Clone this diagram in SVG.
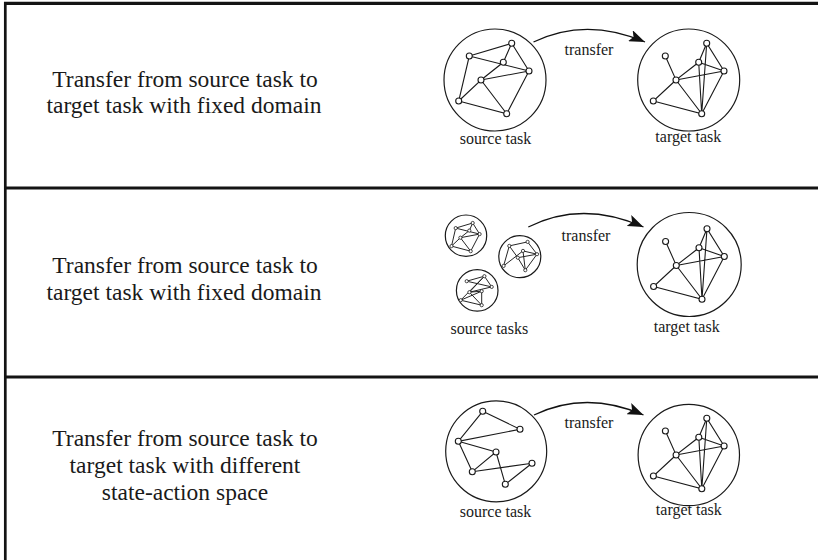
<svg xmlns="http://www.w3.org/2000/svg" width="818" height="560" viewBox="0 0 818 560">
<style>
.frame{stroke:#141414;fill:none}
.big{font-family:"Liberation Serif","Times New Roman",serif;font-size:23.5px;fill:#1a1a1a;text-anchor:middle}
.lbl{font-family:"Liberation Serif","Times New Roman",serif;font-size:16px;fill:#1a1a1a;text-anchor:middle}
.task{fill:none;stroke:#1a1a1a;stroke-width:1.2}
.e{stroke:#1a1a1a;stroke-width:1.1;fill:none}
.n{fill:#fff;stroke:#1a1a1a;stroke-width:1.1}
.se{stroke:#1a1a1a;stroke-width:0.95;fill:none}
.sn{fill:#fff;stroke:#1a1a1a;stroke-width:0.8}
.arr{fill:none;stroke:#111;stroke-width:1.3;marker-end:url(#head)}
</style>
<defs>
<marker id="head" markerUnits="userSpaceOnUse" markerWidth="17" markerHeight="12" refX="16" refY="6" orient="auto">
<path d="M0,0 L16,6 L0,12 L3.5,6 z" fill="#111"/>
</marker>
<g id="srcGraph">
<path class="e" d="M-25.7,-24 L16.7,-36.7 M-25.7,-24 L34,-9 M16.7,-36.7 L8.3,-17.7 L-14,0 M16.7,-36.7 L34,-9 M-14,0 L34,-9 M-25.7,-24 L-36.3,21 L-14,0 L11.7,33.7 L-36.3,21 M34,-9 L11.7,33.7"/>
<circle class="n" cx="16.7" cy="-36.7" r="3"/><circle class="n" cx="-25.7" cy="-24" r="3"/><circle class="n" cx="8.3" cy="-17.7" r="3"/><circle class="n" cx="34" cy="-9" r="3"/><circle class="n" cx="-14" cy="0" r="3"/><circle class="n" cx="-36.3" cy="21" r="3"/><circle class="n" cx="11.7" cy="33.7" r="3"/>
</g>
<g id="tgtGraph">
<path class="e" d="M-23.4,-24 L-12.7,0 L10,-17.7 L18,-36.7 L35.3,-9 L10,-17.7 M-12.7,0 L35.3,-9 M-12.7,0 L-35.4,21 L13,33.7 L-12.7,0 M18,-36.7 L13,33.7 M10,-17.7 L13,33.7 M35.3,-9 L13,33.7"/>
<circle class="n" cx="18" cy="-36.7" r="3"/><circle class="n" cx="-23.4" cy="-24" r="3"/><circle class="n" cx="10" cy="-17.7" r="3"/><circle class="n" cx="35.3" cy="-9" r="3"/><circle class="n" cx="-12.7" cy="0" r="3"/><circle class="n" cx="-35.4" cy="21" r="3"/><circle class="n" cx="13" cy="33.7" r="3"/>
</g>
</defs>

<g id="frame">
<line class="frame" x1="4" y1="3.4" x2="818" y2="3.4" stroke-width="3.2"/>
<line class="frame" x1="5.3" y1="2" x2="5.3" y2="560" stroke-width="2.7"/>
<line class="frame" x1="4" y1="188" x2="818" y2="188" stroke-width="3.2"/>
<line class="frame" x1="4" y1="377" x2="818" y2="377" stroke-width="3.2"/>
</g>

<g id="row1-text">
<text class="big" x="185" y="86.7">Transfer from source task to</text>
<text class="big" x="184" y="112.7">target task with fixed domain</text>
</g>
<g id="row2-text">
<text class="big" x="185" y="273.3">Transfer from source task to</text>
<text class="big" x="184" y="300">target task with fixed domain</text>
</g>
<g id="row3-text">
<text class="big" x="185" y="446">Transfer from source task to</text>
<text class="big" x="185" y="473">target task with different</text>
<text class="big" x="185" y="499.5">state-action space</text>
</g>

<g id="row1-source">
<circle class="task" cx="495" cy="80" r="51"/>
<use href="#srcGraph" transform="translate(495,80)"/>
<text class="lbl" x="495.5" y="144">source task</text>
</g>
<g id="row1-target">
<circle class="task" cx="688.7" cy="80" r="51"/>
<use href="#tgtGraph" transform="translate(688.7,80)"/>
<text class="lbl" x="688.3" y="141.7">target task</text>
</g>

<g id="row2-sources">
<g id="row2-source-a" transform="translate(466,235.7)">
<circle class="task" r="20.7"/>
<path class="se" d="M-10.3,-7.6 L6.7,-12.7 M-10.3,-7.6 L13.6,-1.6 M6.7,-12.7 L3.3,-5.1 L-5.6,2 M6.7,-12.7 L13.6,-1.6 M-5.6,2 L13.6,-1.6 M-10.3,-7.6 L-14.5,10.4 L-5.6,2 L4.7,15.5 L-14.5,10.4 M13.6,-1.6 L4.7,15.5"/>
<g class="sn"><circle cx="6.7" cy="-12.7" r="1.6"/><circle cx="-10.3" cy="-7.6" r="1.6"/><circle cx="3.3" cy="-5.1" r="1.6"/><circle cx="13.6" cy="-1.6" r="1.6"/><circle cx="-5.6" cy="2" r="1.6"/><circle cx="-14.5" cy="10.4" r="1.6"/><circle cx="4.7" cy="15.5" r="1.6"/></g>
</g>
<g id="row2-source-b" transform="translate(519.8,256.7)">
<circle class="task" r="21"/>
<path class="se" d="M-10.5,-10.8 L7.8,-14.8 L17.2,-2.5 M-10.5,-10.8 L-16.2,9.2 L3.2,-5.8 L17.2,-2.5 M-2,1 L17.2,-2.5 M3.2,-5.8 L5.5,13.5 M-2,1 L5.5,13.5 M17.2,-2.5 L5.5,13.5 M-10.5,-10.8 L-2,1"/>
<g class="sn"><circle cx="-10.5" cy="-10.8" r="1.6"/><circle cx="7.8" cy="-14.8" r="1.6"/><circle cx="17.2" cy="-2.5" r="1.6"/><circle cx="3.2" cy="-5.8" r="1.6"/><circle cx="-2" cy="1" r="1.6"/><circle cx="-16.2" cy="9.2" r="1.6"/><circle cx="5.5" cy="13.5" r="1.6"/></g>
</g>
<g id="row2-source-c" transform="translate(477.2,290.4)">
<circle class="task" r="20.8"/>
<path class="se" d="M-10.5,-9.2 L7.2,-14.2 L14.5,-3.5 L-10.5,-9.2 M7.2,-14.2 L-7.8,1.8 L14.5,-3.5 M7.2,-14.2 L-16.5,9.8 L4.5,0.8 L-7.8,1.8 M-16.5,9.8 L4.5,14.8 L4.5,0.8 M-7.8,1.8 L4.5,14.8"/>
<g class="sn"><circle cx="-10.5" cy="-9.2" r="1.6"/><circle cx="7.2" cy="-14.2" r="1.6"/><circle cx="14.5" cy="-3.5" r="1.6"/><circle cx="-7.8" cy="1.8" r="1.6"/><circle cx="4.5" cy="0.8" r="1.6"/><circle cx="-16.5" cy="9.8" r="1.6"/><circle cx="4.5" cy="14.8" r="1.6"/></g>
</g>
<text class="lbl" x="489.3" y="334">source tasks</text>
</g>
<g id="row2-target">
<circle class="task" cx="689.2" cy="264.5" r="52"/>
<use href="#tgtGraph" transform="translate(689,265.5)"/>
<text class="lbl" x="686.7" y="331.7">target task</text>
</g>

<g id="row3-source" transform="translate(496.2,451.3)">
<circle class="task" r="50.5"/>
<path class="e" d="M-13.5,-40 L23.8,-22 L-37.9,-10 L-13.5,-40 M-37.9,-10 L-0.2,0.7 L-23.9,20.4 L35.8,12 L9.1,33 L-0.2,0.7 M-37.9,-10 L-23.9,20.4"/>
<circle class="n" cx="-13.5" cy="-40" r="3"/><circle class="n" cx="23.8" cy="-22" r="3"/><circle class="n" cx="-37.9" cy="-10" r="3"/><circle class="n" cx="-0.2" cy="0.7" r="3"/><circle class="n" cx="35.8" cy="12" r="3"/><circle class="n" cx="-23.9" cy="20.4" r="3"/><circle class="n" cx="9.1" cy="33" r="3"/>
<text class="lbl" x="-0.7" y="65.4">source task</text>
</g>
<g id="row3-target">
<circle class="task" cx="688.8" cy="455" r="50.7"/>
<use href="#tgtGraph" transform="translate(688.8,455)"/>
<text class="lbl" x="688.8" y="515">target task</text>
</g>

<g id="connectors">
<path class="arr" d="M533.5,42 Q586,16.6 645,42"/>
<text class="lbl" x="589" y="55">transfer</text>
<path class="arr" d="M528.3,227 Q582,200 643.5,227"/>
<text class="lbl" x="586" y="240.7">transfer</text>
<path class="arr" d="M534,415 Q586,390 643.5,415"/>
<text class="lbl" x="589" y="428.3">transfer</text>
</g>
</svg>
